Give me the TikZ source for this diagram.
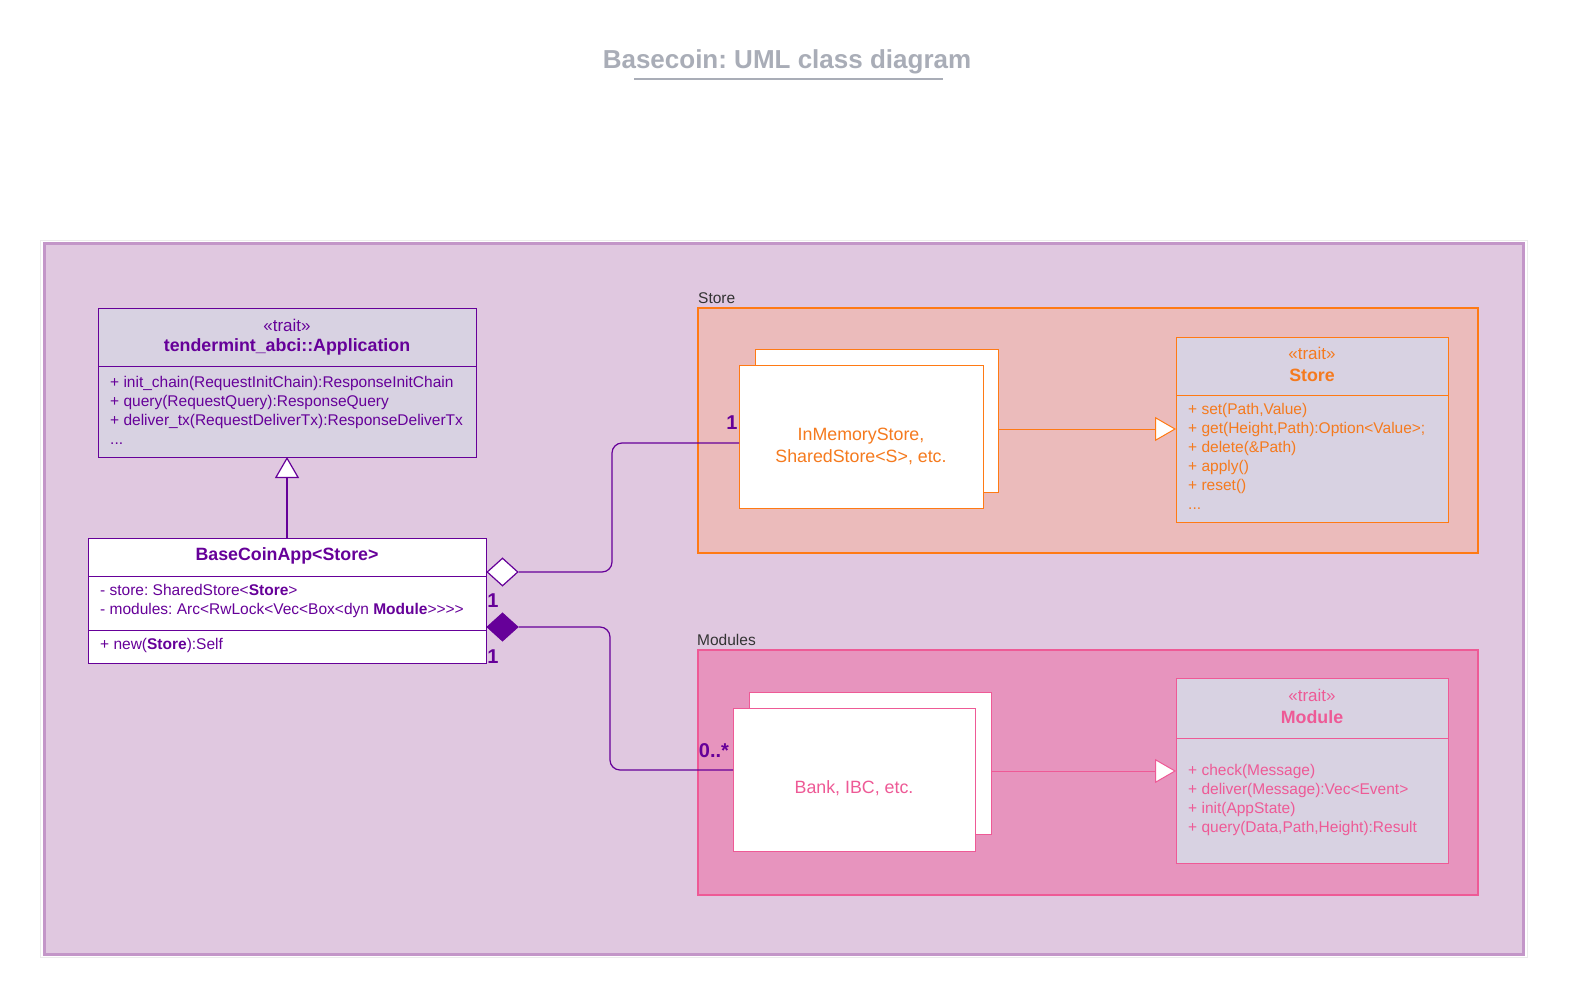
\documentclass[tikz,border=0pt]{standalone}
\usepackage{fontspec}
\setmainfont{Liberation Sans}
\usetikzlibrary{arrows.meta,shapes.geometric}
\definecolor{pur}{HTML}{660099}
\definecolor{purfill}{HTML}{E0C8E0}
\definecolor{purborder}{HTML}{C396C8}
\definecolor{cls}{HTML}{D8D2E2}
\definecolor{org}{HTML}{FF7A14}
\definecolor{orgtxt}{HTML}{F57A1E}
\definecolor{orgfill}{HTML}{EBBBBB}
\definecolor{pnk}{HTML}{EE5A96}
\definecolor{pnkfill}{HTML}{E794BE}
\definecolor{ttl}{HTML}{A9ADB7}
\definecolor{lbl}{HTML}{333333}
\tikzset{
  boxpart/.style={draw, anchor=north west, inner sep=0pt, outer sep=0pt},
  purbox/.style={boxpart, draw=pur, line width=1pt},
  orgbox/.style={boxpart, draw=org, line width=1pt},
  pnkbox/.style={boxpart, draw=pnk, line width=1pt},
  stereo/.style={font=\fontsize{17}{20}\selectfont, inner sep=0pt},
  cname/.style={font=\bfseries\fontsize{17.8}{21}\selectfont, inner sep=0pt},
  members/.style={anchor=north west, align=left, inner sep=0pt, font=\fontsize{15.5}{19}\selectfont},
  mult/.style={font=\bfseries\fontsize{20}{22}\selectfont, text=pur, inner sep=0pt},
  conn/.style={draw=pur, line width=1.2pt},
  grouplbl/.style={anchor=south west, inner sep=0pt, text=lbl, font=\fontsize{15.5}{18}\selectfont},
  realize/.style={-{Triangle[open, length=21pt, width=24pt, fill=white]}},
}
\begin{document}
\frenchspacing
\begin{tikzpicture}[x=1pt, y=-1pt]
\useasboundingbox (0,0) rectangle (1574,1004);
\fill[white] (0,0) rectangle (1574,1004);

% title
\node[font=\bfseries\fontsize{26}{30}\selectfont, text=ttl, inner sep=0pt] (title) at (787,62) {Basecoin: UML class diagram};
\draw[ttl, line width=2pt] (634,79) -- (943,79);

% outer frame
\draw[black!8, line width=1pt] (40,240) rectangle (1527,957);
\draw[purborder, fill=purfill, line width=3pt] (44,243) rectangle (1523,954);

% tendermint_abci::Application
\node[purbox, fill=cls, minimum width=378pt, minimum height=58pt] (apph) at (98,308) {};
\node[purbox, fill=cls, minimum width=378pt, minimum height=91pt] (appb) at (98,366) {};
\node[stereo, text=pur] (appst) at (287,325) {«trait»};
\node[cname, text=pur] (appn) at (287,347) {tendermint\_abci::Application};
\node[members, text=pur] (appm) at (110,376) {+ init\_chain(RequestInitChain):ResponseInitChain\\+ query(RequestQuery):ResponseQuery\\+ deliver\_tx(RequestDeliverTx):ResponseDeliverTx\\...};

% BaseCoinApp
\node[purbox, fill=white, minimum width=398pt, minimum height=38pt] (bch) at (88,538) {};
\node[purbox, fill=white, minimum width=398pt, minimum height=54pt] (bca) at (88,576) {};
\node[purbox, fill=white, minimum width=398pt, minimum height=33pt] (bco) at (88,630) {};
\node[cname, text=pur] (bcn) at (287,556) {BaseCoinApp<Store>};
\node[members, text=pur] (bcam) at (100,584) {- store: SharedStore<\textbf{Store}>\\- modules: Arc<RwLock<Vec<Box<dyn \textbf{Module}>{}>{}>{}>};
\node[members, text=pur] (bcom) at (100,638) {+ new(\textbf{Store}):Self};

% inheritance
\draw[conn, realize] (bch.north) -- (appb.south);

% Store group
\node[grouplbl] (storelbl) at (698,304) {Store};
\node[boxpart, draw=org, fill=orgfill, line width=2pt, minimum width=780pt, minimum height=245pt] (scont) at (698,308) {};
\node[orgbox, fill=white, minimum width=243pt, minimum height=143pt] (sback) at (755,349) {};
\node[orgbox, fill=white, minimum width=244pt, minimum height=143pt] (sfront) at (739,365) {};
\node[align=center, text=orgtxt, font=\fontsize{17.8}{22}\selectfont, inner sep=0pt] (simpl) at (861,446) {InMemoryStore,\\SharedStore<S>, etc.};
\node[orgbox, fill=cls, minimum width=272pt, minimum height=58pt] (sth) at (1176,337) {};
\node[orgbox, fill=cls, minimum width=272pt, minimum height=127pt] (stb) at (1176,395) {};
\node[stereo, text=orgtxt] (stst) at (1312,353) {«trait»};
\node[cname, text=orgtxt] (stn) at (1312,375) {Store};
\node[members, text=orgtxt] (stm) at (1188,403) {+ set(Path,Value)\\+ get(Height,Path):Option<Value>;\\+ delete(\&Path)\\+ apply()\\+ reset()\\...};
\draw[org, line width=1pt, realize] (sback.east |- 0,429) -- (stb.west |- 0,429);

% Modules group
\node[grouplbl] (modlbl) at (697,646) {Modules};
\node[boxpart, draw=pnk, fill=pnkfill, line width=1.5pt, minimum width=780pt, minimum height=245pt] (mcont) at (698,650) {};
\node[pnkbox, fill=white, minimum width=242pt, minimum height=142pt] (mback) at (749,692) {};
\node[pnkbox, fill=white, minimum width=242pt, minimum height=143pt] (mfront) at (733,708) {};
\node[text=pnk, font=\fontsize{17.8}{22}\selectfont, inner sep=0pt] (mimpl) at (854,788) {Bank, IBC, etc.};
\node[pnkbox, fill=cls, minimum width=272pt, minimum height=60pt] (mth) at (1176,678) {};
\node[pnkbox, fill=cls, minimum width=272pt, minimum height=125pt] (mtb) at (1176,738) {};
\node[stereo, text=pnk] (mtst) at (1312,695) {«trait»};
\node[cname, text=pnk] (mtn) at (1312,717) {Module};
\node[members, text=pnk] (mtm) at (1188,764) {+ check(Message)\\+ deliver(Message):Vec<Event>\\+ init(AppState)\\+ query(Data,Path,Height):Result};
\draw[pnk, line width=1pt, realize] (mback.east |- 0,771) -- (mtb.west |- 0,771);

% associations
\node[diamond, draw=pur, fill=white, line width=1.2pt, minimum width=31pt, minimum height=28pt, inner sep=0pt] (agg) at (502.5,572) {};
\node[diamond, draw=pur, fill=pur, line width=1.2pt, minimum width=31pt, minimum height=28pt, inner sep=0pt] (comp) at (502.5,627) {};
\draw[conn, rounded corners=10pt] (agg.east) -| (612,443) -- (sfront.west |- 0,443);
\draw[conn, rounded corners=10pt] (comp.east) -| (610,770) -- (mfront.west |- 0,770);

% multiplicities
\node[mult] (m1) at (732,423) {1};
\node[mult] (m2) at (493,601) {1};
\node[mult] (m3) at (493,657) {1};
\node[mult] (m4) at (714,751) {0..*};
\end{tikzpicture}
\end{document}
